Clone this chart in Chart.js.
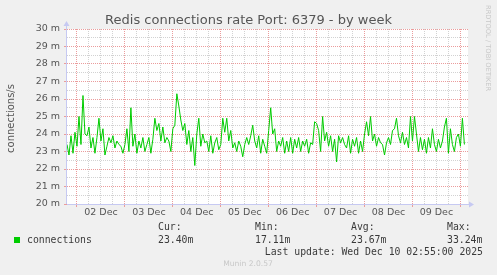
<!DOCTYPE html>
<html lang="en">
<head>
<meta charset="UTF-8">
<title>Redis connections rate Port: 6379 - by week</title>
<script src="https://cdn.jsdelivr.net/npm/chart.js"></script>
<style>
    html, body {
        margin: 0;
        padding: 0;
        background: #f0f0f0;
    }
    #wrap {
        width: 497px;
        height: 275px;
    }
</style>
</head>
<body>

<div id="wrap"><canvas id="graph" width="497" height="275"></canvas></div>

<script>
    // one sample per hour, hours counted from 02 Dec 00:00
    const firstHour = -5;
    const connections = [
        23.4, 22.8, 23.9, 22.9, 24.1, 23.3, 25.0, 23.4, 26.2, 24.0,
        23.9, 24.4, 23.2, 23.8, 22.9, 23.8, 24.9, 23.6, 24.3, 22.8,
        23.3, 23.8, 23.5, 23.9, 23.2, 23.6, 23.4, 23.3, 22.9, 23.4,
        24.3, 23.0, 25.5, 23.3, 24.0, 22.9, 23.6, 23.2, 23.8, 23.0,
        23.4, 23.8, 22.9, 23.7, 24.9, 24.2, 24.6, 23.6, 24.4, 23.5,
        23.8, 23.6, 23.0, 24.3, 24.5, 26.3, 25.6, 24.8, 24.2, 24.6,
        23.4, 24.2, 23.0, 23.8, 22.2, 24.0, 24.9, 23.3, 24.0, 23.5,
        23.6, 23.0, 23.9, 22.9, 23.5, 23.8, 23.1, 23.4, 24.9, 24.1,
        24.9, 23.6, 24.2, 23.2, 23.5, 23.0, 23.6, 23.3, 22.7, 23.4,
        23.8, 23.4, 23.9, 24.5, 23.6, 23.2, 23.9, 22.9, 23.7, 23.3,
        22.9, 24.2, 25.5, 24.0, 24.3, 23.0, 23.6, 23.3, 23.8, 22.9,
        23.6, 23.0, 23.8, 22.9, 23.7, 23.2, 23.8, 23.0, 23.6, 23.3,
        23.7, 22.9, 23.5, 23.4, 24.7, 24.6, 24.2, 23.0, 25.0, 23.6,
        24.1, 23.3, 23.9, 23.0, 23.7, 22.4, 23.9, 23.5, 23.8, 23.4,
        23.2, 23.9, 22.9, 23.7, 23.3, 23.8, 22.9, 23.6, 23.0, 24.0,
        24.7, 23.9, 25.0, 23.6, 24.0, 23.3, 23.8, 23.5, 23.4, 22.8,
        23.5, 23.8, 23.4, 24.2, 24.3, 24.9, 23.9, 23.5, 24.1, 23.4,
        23.8, 23.2, 25.0, 23.6, 25.0, 24.0, 23.0, 23.8, 23.1, 23.7,
        22.9, 23.8, 23.2, 24.3, 23.4, 23.0, 23.7, 23.2, 23.6, 24.4,
        24.9, 22.9, 24.3, 23.4, 23.0, 23.8, 24.0, 23.3, 24.9, 23.4
    ];
    const dayLabels = ['02 Dec', '03 Dec', '04 Dec', '05 Dec', '06 Dec', '07 Dec', '08 Dec', '09 Dec'];
    const yMin = 20;
    const yMax = 30;
    const yUnit = ' m';
    const statNames = ['Cur:', 'Min:', 'Avg:', 'Max:'];
    const statValues = ['23.40m', '17.11m', '23.67m', '33.24m'];
    const seriesName = 'connections';
    const titleText = 'Redis connections rate Port: 6379 - by week';
    const yTitle = 'connections/s';
    const lastUpdate = 'Last update: Wed Dec 10 02:55:00 2025';
    const footer = 'Munin 2.0.57';
    const sideText = 'RRDTOOL / TOBI OETIKER';

    const points = connections.map((v, i) => ({ x: firstHour + i, y: v }));

    const majorGrid = '#eb9c9c';
    const minorGrid = '#d2d2d2';
    const axisBlue = '#c6c9f2';
    const textGrey = '#555555';

    // background, titles, legend and axis arrows the way rrdtool draws them
    const muninFrame = {
        id: 'muninFrame',
        beforeDraw(chart) {
            const { ctx, chartArea: a } = chart;
            ctx.save();
            ctx.fillStyle = '#f0f0f0';
            ctx.fillRect(0, 0, chart.width, chart.height);
            ctx.fillStyle = '#ffffff';
            ctx.fillRect(a.left, a.top, a.right - a.left, a.bottom - a.top);
            ctx.restore();
        },
        afterDraw(chart) {
            const { ctx, chartArea: a } = chart;
            ctx.save();

            // axis extensions + arrows
            ctx.strokeStyle = axisBlue;
            ctx.fillStyle = axisBlue;
            ctx.lineWidth = 1;
            ctx.beginPath();
            ctx.moveTo(a.left - 0.5, a.bottom);
            ctx.lineTo(a.left - 0.5, a.top - 5);
            ctx.moveTo(a.left, a.bottom + 0.5);
            ctx.lineTo(a.right + 3, a.bottom + 0.5);
            ctx.stroke();
            ctx.beginPath();
            ctx.moveTo(a.left - 3.5, a.top - 3);
            ctx.lineTo(a.left + 2.5, a.top - 3);
            ctx.lineTo(a.left - 0.5, a.top - 8);
            ctx.closePath();
            ctx.fill();
            ctx.beginPath();
            ctx.moveTo(a.right + 1, a.bottom - 2.5);
            ctx.lineTo(a.right + 1, a.bottom + 3.5);
            ctx.lineTo(a.right + 6, a.bottom + 0.5);
            ctx.closePath();
            ctx.fill();

            // title
            ctx.fillStyle = textGrey;
            ctx.font = '13px "DejaVu Sans"';
            ctx.textAlign = 'center';
            ctx.textBaseline = 'alphabetic';
            ctx.fillText(titleText, 248.5, 24);

            // vertical axis title
            ctx.save();
            ctx.translate(11, 118.5);
            ctx.rotate(-Math.PI / 2);
            ctx.font = '10px "DejaVu Sans"';
            ctx.textBaseline = 'middle';
            ctx.fillText(yTitle, 0, 0);
            ctx.restore();

            // rrdtool watermark
            ctx.save();
            ctx.translate(487.5, 5);
            ctx.rotate(Math.PI / 2);
            ctx.fillStyle = '#c8c8c8';
            ctx.font = '6.7px "DejaVu Sans"';
            ctx.textAlign = 'left';
            ctx.textBaseline = 'middle';
            ctx.fillText(sideText, 0, 0);
            ctx.restore();

            // legend
            ctx.fillStyle = chart.data.datasets[0].borderColor;
            ctx.fillRect(14, 237, 6, 6);
            ctx.fillStyle = '#3a3a3a';
            ctx.font = '9.8px "DejaVu Sans Mono"';
            ctx.textAlign = 'left';
            ctx.textBaseline = 'middle';
            ctx.fillText(seriesName, 27, 240);
            const statX = [158, 255, 351, 447];
            statNames.forEach((n, i) => {
                ctx.fillText(n, statX[i], 227);
                ctx.fillText(statValues[i], statX[i], 240);
            });
            ctx.textAlign = 'right';
            ctx.fillText(lastUpdate, 483, 252);

            ctx.fillStyle = '#c8c8c8';
            ctx.font = '7.6px "DejaVu Sans"';
            ctx.textAlign = 'center';
            ctx.fillText(footer, 248, 264);

            ctx.restore();
        }
    };

    const ctx = document.getElementById('graph').getContext('2d');
    const graph = new Chart(ctx, {
        type: 'line',
        data: {
            datasets: [{
                label: seriesName,
                data: points,
                borderColor: '#00cc00',
                borderWidth: 1,
                pointRadius: 0,
                tension: 0,
                fill: false
            }]
        },
        options: {
            responsive: false,
            animation: false,
            devicePixelRatio: 1,
            layout: { padding: { left: 0, top: 29, right: 29, bottom: 0 } },
            plugins: {
                legend: { display: false },
                tooltip: { enabled: false }
            },
            scales: {
                x: {
                    type: 'linear',
                    min: firstHour,
                    max: 195.8,
                    afterFit: s => { s.height = 71; },
                    afterBuildTicks: s => {
                        const t = [];
                        for (let h = 0; h <= 192; h += 6) t.push({ value: h });
                        s.ticks = t;
                    },
                    grid: {
                        color: c => (c.tick && c.tick.value % 24 === 0) ? majorGrid : minorGrid,
                        tickColor: c => (c.tick && c.tick.value % 24 === 0) ? majorGrid : 'rgba(0,0,0,0)',
                        tickLength: 3,
                        lineWidth: 1
                    },
                    border: { display: false, dash: [1, 1] },
                    ticks: {
                        autoSkip: false,
                        maxRotation: 0,
                        padding: 0,
                        color: textGrey,
                        font: { family: 'DejaVu Sans', size: 9.5 },
                        callback: v => (v % 24 === 12) ? dayLabels[Math.floor(v / 24)] : ''
                    }
                },
                y: {
                    min: yMin,
                    max: yMax,
                    afterFit: s => { s.width = 67; },
                    grid: {
                        color: c => (c.tick && Number.isInteger(c.tick.value)) ? majorGrid : minorGrid,
                        tickColor: c => (c.tick && Number.isInteger(c.tick.value)) ? majorGrid : 'rgba(0,0,0,0)',
                        tickLength: 3,
                        lineWidth: 1
                    },
                    border: { display: false, dash: [1, 1] },
                    ticks: {
                        stepSize: 0.5,
                        autoSkip: false,
                        padding: 4,
                        color: textGrey,
                        font: { family: 'DejaVu Sans', size: 9.5 },
                        callback: v => Number.isInteger(v) ? v + yUnit : ''
                    }
                }
            }
        },
        plugins: [muninFrame]
    });
</script>

</body>
</html>
